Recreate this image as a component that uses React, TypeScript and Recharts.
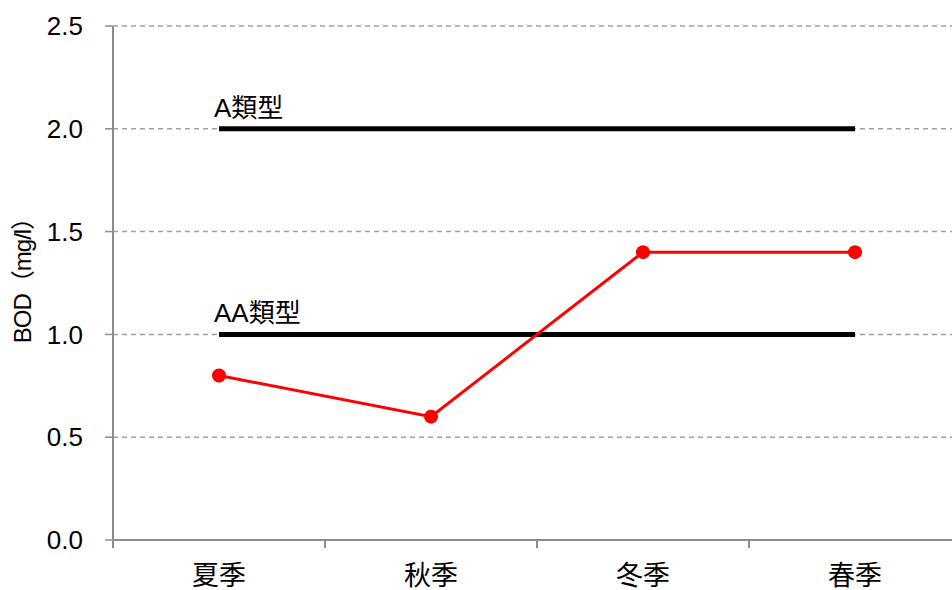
import { LineChart, Line, XAxis, YAxis, CartesianGrid, LabelList } from 'recharts'

const seasons = ['夏季', '秋季', '冬季', '春季']
const bod = [0.8, 0.6, 1.4, 1.4]
const classA = [2.0, 2.0, 2.0, 2.0]
const classAA = [1.0, 1.0, 1.0, 1.0]
const yTicks = [0, 0.5, 1.0, 1.5, 2.0, 2.5]

const data = seasons.map((s, i) => ({ season: s, bod: bod[i], a: classA[i], aa: classAA[i] }))

const FONT = "'Liberation Sans', 'Noto Sans CJK JP', sans-serif"
const AXIS = '#8c8c8c'
const W = 970
const H = 590
const LEFT = 113
const RIGHT = 9
const band = (W - LEFT - RIGHT) / seasons.length

function SeasonTick({ x, y, payload }: any) {
  return (
    <g>
      <line x1={x - band / 2} y1={y} x2={x - band / 2} y2={y + 8} stroke={AXIS} strokeWidth={2} />
      <text x={x} y={y + 36} textAnchor="middle" dominantBaseline="central" fontSize={27} fill="#000" fontFamily={FONT}>
        {payload.value}
      </text>
    </g>
  )
}

function firstLabel(text: string) {
  return (props: any) => {
    if (props.index !== 0) return null
    return (
      <text x={props.x - 5} y={props.y - 12} fontSize={26} fill="#000" fontFamily={FONT}>
        {text}
      </text>
    )
  }
}

export default function App() {
  return (
    <div style={{ position: 'absolute', left: 0, top: 0, width: 952, height: 590, overflow: 'hidden', background: '#fff' }}>
      <LineChart width={W} height={H} data={data} margin={{ top: 26, right: RIGHT, left: 0, bottom: 0 }}>
        <CartesianGrid vertical={false} stroke="#a0a0a0" strokeDasharray="5 4" strokeWidth={1.5} />
        <XAxis
          dataKey="season"
          height={50}
          padding={{ left: band / 2, right: band / 2 }}
          axisLine={{ stroke: AXIS, strokeWidth: 2 }}
          tickLine={false}
          tickSize={0}
          tickMargin={0}
          tick={<SeasonTick />}
          interval={0}
        />
        <YAxis
          width={LEFT}
          domain={[0, 2.5]}
          ticks={yTicks}
          tickFormatter={(v) => v.toFixed(1)}
          axisLine={{ stroke: AXIS, strokeWidth: 2 }}
          tickLine={{ stroke: AXIS, strokeWidth: 1.5 }}
          tickSize={8}
          tickMargin={22}
          tick={{ fontSize: 26, fill: '#000', fontFamily: FONT }}
          label={(props: any) => {
            const vb = props.viewBox || { x: 0, y: 26, height: 514 }
            const cx = vb.x + 22
            const cy = vb.y + vb.height / 2 - 8
            return (
              <text x={cx} y={cy} transform={`rotate(-90, ${cx}, ${cy})`} textAnchor="middle" dominantBaseline="central" fontSize={24} fill="#000" fontFamily={FONT} letterSpacing={-1}>
                BOD（mg/l）
              </text>
            )
          }}
        />
        <Line dataKey="a" stroke="#000" strokeWidth={5} dot={false} activeDot={false} isAnimationActive={false}>
          <LabelList dataKey="a" content={firstLabel('A類型')} />
        </Line>
        <Line dataKey="aa" stroke="#000" strokeWidth={5} dot={false} activeDot={false} isAnimationActive={false}>
          <LabelList dataKey="aa" content={firstLabel('AA類型')} />
        </Line>
        <Line
          dataKey="bod"
          stroke="#ff0000"
          strokeWidth={3}
          dot={{ r: 7, fill: '#ff0000', stroke: '#ff0000', strokeWidth: 0 }}
          activeDot={false}
          isAnimationActive={false}
        />
      </LineChart>
    </div>
  )
}
